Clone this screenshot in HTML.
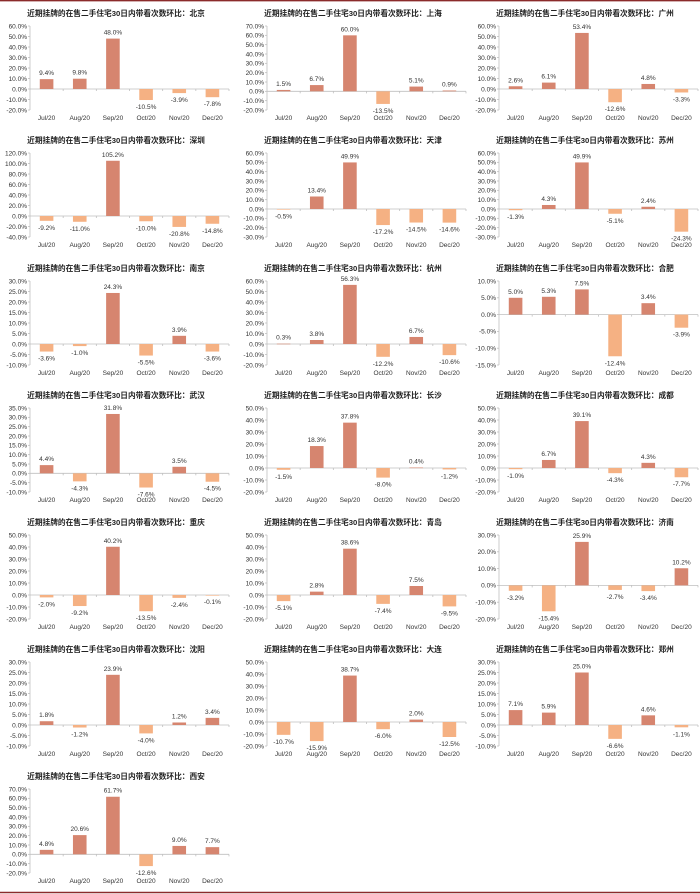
<!DOCTYPE html>
<html><head><meta charset="utf-8">
<style>
html,body{margin:0;padding:0;background:#fff;}
svg{display:block;}
text{font-family:"Liberation Sans","Noto Sans CJK SC",sans-serif;}
</style></head>
<body>
<svg id="chart" width="700" height="894" viewBox="0 0 700 894" xmlns="http://www.w3.org/2000/svg">
<line x1="0" y1="0.7" x2="700" y2="0.7" stroke="#8b2b2b" stroke-width="1.4"/>
<line x1="0" y1="892.5" x2="700" y2="892.5" stroke="#8b2b2b" stroke-width="1.4"/>
</svg>
<script>
const categories = ["Jul/20","Aug/20","Sep/20","Oct/20","Nov/20","Dec/20"];
const cities = ["北京","上海","广州","深圳","天津","苏州","南京","杭州","合肥","武汉","长沙","成都","重庆","青岛","济南","沈阳","大连","郑州","西安"];
const values = [
 [9.4,9.8,48.0,-10.5,-3.9,-7.8],
 [1.5,6.7,60.0,-13.5,5.1,0.9],
 [2.6,6.1,53.4,-12.6,4.8,-3.3],
 [-9.2,-11.0,105.2,-10.0,-20.8,-14.8],
 [-0.5,13.4,49.9,-17.2,-14.5,-14.6],
 [-1.3,4.3,49.9,-5.1,2.4,-24.3],
 [-3.6,-1.0,24.3,-5.5,3.9,-3.6],
 [0.3,3.8,56.3,-12.2,6.7,-10.6],
 [5.0,5.3,7.5,-12.4,3.4,-3.9],
 [4.4,-4.3,31.8,-7.6,3.5,-4.5],
 [-1.5,18.3,37.8,-8.0,0.4,-1.2],
 [-1.0,6.7,39.1,-4.3,4.3,-7.7],
 [-2.0,-9.2,40.2,-13.5,-2.4,-0.1],
 [-5.1,2.8,38.6,-7.4,7.5,-9.5],
 [-3.2,-15.4,25.9,-2.7,-3.4,10.2],
 [1.8,-1.2,23.9,-4.0,1.2,3.4],
 [-10.7,-15.9,38.7,-6.0,2.0,-12.5],
 [7.1,5.9,25.0,-6.6,4.6,-1.1],
 [4.8,20.6,61.7,-12.6,9.0,7.7]
];
const axisMax = [60,70,60,120,60,60,30,60,10,35,50,50,50,50,30,30,50,30,70];
const axisMin = [-20,-20,-20,-40,-30,-30,-10,-20,-15,-10,-20,-20,-20,-20,-20,-10,-20,-10,-20];
const axisStep = [10,10,10,20,10,10,5,10,5,5,10,10,10,10,10,5,10,5,10];

const NS="http://www.w3.org/2000/svg";
const svg=document.getElementById('chart');
const colX=[0,237,469], rowY=[0,127,255,382,509,636,763];
function mk(tag,attrs,parent){const e=document.createElementNS(NS,tag);for(const k in attrs)e.setAttribute(k,attrs[k]);(parent||svg).appendChild(e);return e;}

cities.forEach((city,p)=>{
  const ox=colX[p%3], oy=rowY[Math.floor(p/3)];
  const g=mk('g',{});
  
  
  const top=oy+26, bot=oy+110, left=ox+30, right=ox+229;
  const ymax=axisMax[p], ymin=axisMin[p], st=axisStep[p];
  const ys=v=>top+(ymax-v)/(ymax-ymin)*(bot-top);
  const slot=(right-left)/categories.length;
  const xc=i=>left+slot*(i+0.5);
  const t=mk('text',{x:ox+116,y:oy+16,'text-anchor':'middle','font-size':'7.7','font-weight':'bold',fill:'#222'},g);
  t.textContent='近期挂牌的在售二手住宅30日内带看次数环比：'+city;
  
  
  mk('line',{x1:left,y1:top,x2:left,y2:bot,stroke:'#bfbfbf','stroke-width':0.8},g);
  for(let v=ymax; v>=ymin-1e-9; v-=st){
    const yl=mk('text',{x:left-3,y:ys(v)+2.3,'text-anchor':'end','font-size':'6.5',fill:'#333'},g);
    yl.textContent=v.toFixed(1)+'%';
    
    
    mk('line',{x1:left-2,y1:ys(v),x2:left,y2:ys(v),stroke:'#bfbfbf','stroke-width':0.8},g);
  }
  const y0=ys(0);
  mk('line',{x1:left,y1:y0,x2:right,y2:y0,stroke:'#bfbfbf','stroke-width':0.8},g);
  categories.forEach((c,i)=>{
    mk('line',{x1:left+slot*(i+1),y1:y0,x2:left+slot*(i+1),y2:y0+2,stroke:'#bfbfbf','stroke-width':0.8},g);
    const v=values[p][i];
    const yv=ys(v);
    const r=mk('rect',{x:xc(i)-6.8,y:Math.min(yv,y0),width:13.6,height:Math.max(Math.abs(yv-y0),0.6),fill:v>=0?'#d6856f':'#f5b183'},g);
    
    
    const vl=mk('text',{x:xc(i),y:v>=0?yv-4:yv+9,'text-anchor':'middle','font-size':'6.5',fill:'#333'},g);
    vl.textContent=v.toFixed(1)+'%';
    
    
    const xl=mk('text',{x:xc(i),y:oy+120,'text-anchor':'middle','font-size':'6.5',fill:'#333'},g);
    xl.textContent=c;
    
    
  });
});
</script>
</body></html>
